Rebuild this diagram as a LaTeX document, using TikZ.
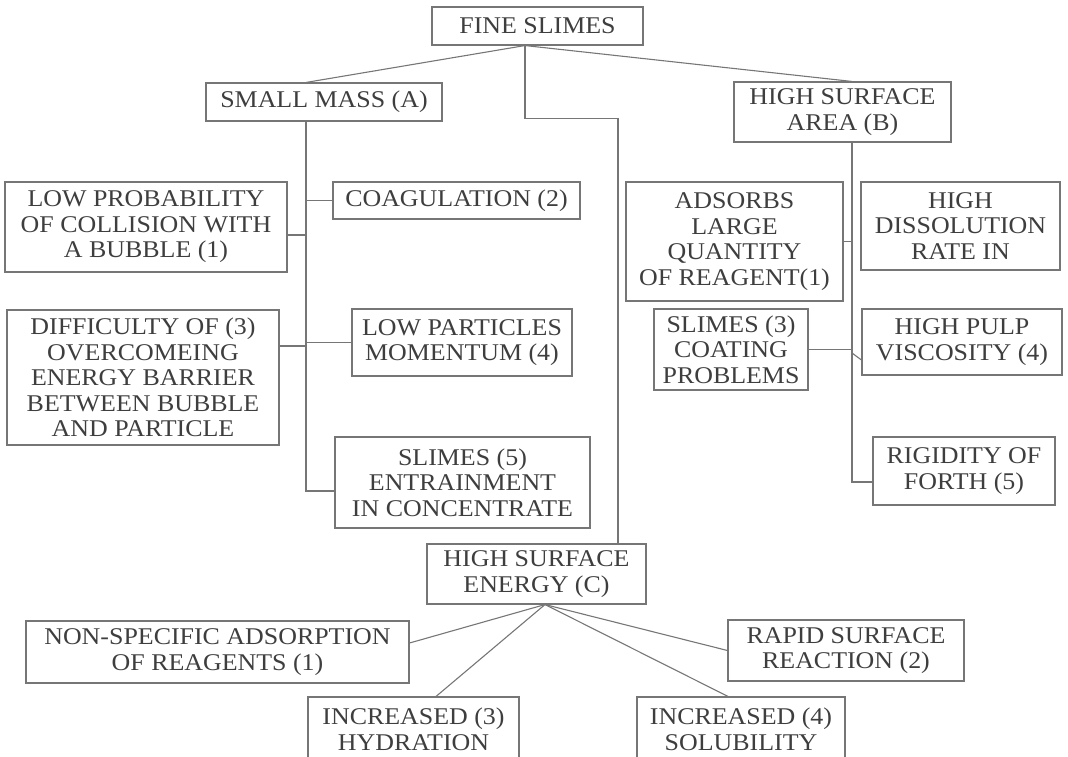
\documentclass[tikz,border=0pt]{standalone}
\usepackage{fontspec}
\setmainfont{Liberation Serif}[FakeStretch=1.08]
\usetikzlibrary{calc}
\definecolor{ScanInk}{RGB}{62,62,62}
\definecolor{ScanLine}{RGB}{118,118,118}
\tikzset{
  box/.style={draw=ScanLine, line width=1.1pt, align=center, text=ScanInk, inner sep=2pt, font=\fontsize{24}{25.5}\selectfont},
  link/.style={draw=ScanLine, line width=1.1pt}
}

\begin{document}
\begin{tikzpicture}[x=1pt, y=-1pt]
\useasboundingbox (0,0) rectangle (1068,757);
\clip (0,0) rectangle (1068,757);
% trunk positions
\coordinate (tA) at (306,0);
\coordinate (tB) at (852,0);
\coordinate (tC) at (618,0);
% top
\node[box, minimum width=211pt, minimum height=38pt] (fine) at (537.5,26) {FINE SLIMES};
\node[box, minimum width=236pt, minimum height=38pt] (mass) at (324,102) {SMALL MASS (A)};
\node[box, minimum width=217pt, minimum height=60pt] (area) at (842.5,112) {HIGH SURFACE\\AREA (B)};
% branch A
\node[box, minimum width=282pt, minimum height=90pt] (prob) at (146,227) {LOW PROBABILITY\\OF COLLISION WITH\\A BUBBLE (1)};
\node[box, minimum width=247pt, minimum height=37pt] (coag) at (456.5,200.5) {COAGULATION (2)};
\node[box, minimum width=272pt, minimum height=135pt] (diff) at (143,377.5) {DIFFICULTY OF (3)\\OVERCOMEING\\ENERGY BARRIER\\BETWEEN BUBBLE\\AND PARTICLE};
\node[box, minimum width=220pt, minimum height=67pt] (momentum) at (462,342.5) {LOW PARTICLES\\MOMENTUM (4)};
\node[box, minimum width=255pt, minimum height=91pt] (entrain) at (462.5,482.5) {SLIMES (5)\\ENTRAINMENT\\IN CONCENTRATE};
% branch B
\node[box, minimum width=217pt, minimum height=119pt] (adsorbs) at (734.5,241.5) {ADSORBS\\LARGE\\QUANTITY\\OF REAGENT(1)};
\node[box, minimum width=199pt, minimum height=88pt] (dissolution) at (960.5,226) {HIGH\\DISSOLUTION\\RATE IN};
\node[box, minimum width=154pt, minimum height=81pt] (coating) at (731,349.5) {SLIMES (3)\\COATING\\PROBLEMS};
\node[box, minimum width=200pt, minimum height=66pt] (pulp) at (962,342) {HIGH PULP\\VISCOSITY (4)};
\node[box, minimum width=182pt, minimum height=68pt] (rigidity) at (964,471) {RIGIDITY OF\\FORTH (5)};
% branch C
\node[box, minimum width=219pt, minimum height=60pt] (energy) at (536.5,574) {HIGH SURFACE\\ENERGY (C)};
\node[box, minimum width=383pt, minimum height=62pt] (adsorption) at (217.5,652) {NON-SPECIFIC ADSORPTION\\OF REAGENTS (1)};
\node[box, minimum width=236pt, minimum height=61pt] (rapid) at (846,650.5) {RAPID SURFACE\\REACTION (2)};
\node[box, minimum width=211pt, minimum height=65pt] (hydration) at (413.5,729.5) {INCREASED (3)\\HYDRATION};
\node[box, minimum width=208pt, minimum height=65pt] (solubility) at (741,729.5) {INCREASED (4)\\SOLUBILITY};

\coordinate (fineb) at ([xshift=-12.5pt]fine.south);
\coordinate (energyb) at ([xshift=8.5pt]energy.south);

\draw[link] (fineb) -- (mass.north -| tA);
\draw[link] (fineb) -- (area.north -| tB);
\draw[link] (fineb) -- ++(0,73) -| (energy.north -| tC);

\draw[link] (mass.south -| tA) |- ([yshift=-8.5pt]entrain.west);
\draw[link] ([yshift=-8pt]prob.east) -- ([yshift=-8pt]prob.east -| tA);
\draw[link] (coag.west) -- (coag.west -| tA);
\draw[link] ([yshift=31.5pt]diff.east) -- ([yshift=31.5pt]diff.east -| tA);
\draw[link] (momentum.west) -- (momentum.west -| tA);

\draw[link] (area.south -| tB) |- ([yshift=-11pt]rigidity.west);
\draw[link] (adsorbs.east) -- (adsorbs.east -| tB);
\draw[link] (coating.east) -- (coating.east -| tB);
\draw[link] ([yshift=-11pt]pulp.west -| tB) -- ([yshift=-18pt]pulp.west);

\draw[link] (energyb) -- ([yshift=9pt]adsorption.east);
\draw[link] (energyb) -- (rapid.west);
\draw[link] (energyb) -- ([xshift=22.5pt]hydration.north);
\draw[link] (energyb) -- ([xshift=-13pt]solubility.north);
\end{tikzpicture}
\end{document}
